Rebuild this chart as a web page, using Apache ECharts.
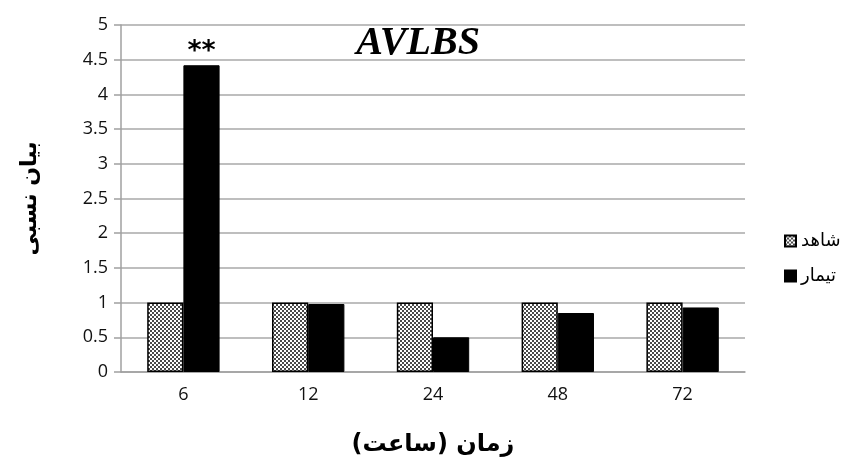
<!DOCTYPE html>
<html><head><meta charset="utf-8">
<script src="https://cdn.jsdelivr.net/npm/echarts@6/dist/echarts.min.js"></script>
<style>html,body{margin:0;padding:0;background:#fff}#c{width:848px;height:464px}</style>
</head><body><div id="c"></div>
<script>
const categories = ['6', '12', '24', '48', '72'];
const controlValues = [1, 1, 1, 1, 1];
const treatmentValues = [4.42, 0.98, 0.5, 0.85, 0.93];
const treatmentMarks = ['**', '', '', '', ''];
const seriesNames = ['شاهد', 'تیمار'];
const yTicks = { min: 0, max: 5, interval: 0.5 };

const pc = document.createElement('canvas');
pc.width = 4; pc.height = 4;
const g = pc.getContext('2d');
g.fillStyle = '#ffffff'; g.fillRect(0, 0, 4, 4);
g.fillStyle = '#4a4a4a'; g.fillRect(0, 0, 2, 2); g.fillRect(2, 2, 2, 2);

const chart = echarts.init(document.getElementById('c'), null, { renderer: 'canvas' });
chart.setOption({
  animation: false,
  title: {
    text: 'AVLBS', left: 413, top: 19, textAlign: 'center',
    textStyle: { fontFamily: 'Liberation Serif', fontStyle: 'italic', fontWeight: 'bold', fontSize: 40, color: '#000' }
  },
  legend: {
    orient: 'vertical', left: 779, top: 227, itemGap: 17, itemWidth: 11, itemHeight: 11,
    icon: 'rect',
    textStyle: { fontFamily: 'DejaVu Sans', fontSize: 18, color: '#000', padding: [0, 0, 0, 0] },
    data: seriesNames
  },
  grid: { left: 121, right: 103, top: 25, bottom: 92 },
  xAxis: {
    type: 'category', data: categories,
    name: 'زمان (ساعت)', nameLocation: 'middle', nameGap: 61,
    nameTextStyle: { fontFamily: 'DejaVu Sans', fontWeight: 'bold', fontSize: 24, color: '#000' },
    axisLine: { lineStyle: { color: '#a0a0a0', width: 1.5 } },
    axisTick: { show: false },
    axisLabel: { fontFamily: 'Open Sans', fontSize: 18, color: '#111', margin: 14 }
  },
  yAxis: {
    type: 'value', min: yTicks.min, max: yTicks.max, interval: yTicks.interval,
    name: 'بیان نسبی', nameLocation: 'middle', nameRotate: 90, nameGap: 80,
    nameTextStyle: { fontFamily: 'DejaVu Sans', fontWeight: 'bold', fontSize: 22, color: '#000' },
    axisLine: { show: true, lineStyle: { color: '#a0a0a0', width: 1.5 } },
    axisTick: { show: true, inside: false, length: 7, lineStyle: { color: '#a0a0a0', width: 1.5 } },
    splitLine: { lineStyle: { color: '#a8a8a8', width: 1.5 } },
    axisLabel: { fontFamily: 'Open Sans', fontSize: 18, color: '#111', margin: 13 }
  },
  series: [
    {
      name: seriesNames[0], type: 'bar', data: controlValues,
      barGap: '0%', barCategoryGap: '42%',
      itemStyle: { color: { image: pc, repeat: 'repeat' }, borderColor: '#000', borderWidth: 1.5 }
    },
    {
      name: seriesNames[1], type: 'bar', data: treatmentValues,
      barGap: '0%', barCategoryGap: '42%',
      itemStyle: { color: '#000', borderColor: '#000', borderWidth: 1 },
      label: {
        show: true, position: 'top', distance: 0,
        formatter: p => treatmentMarks[p.dataIndex],
        fontFamily: 'DejaVu Sans', fontWeight: 'bold', fontSize: 27, color: '#000'
      }
    }
  ]
});
</script></body></html>
